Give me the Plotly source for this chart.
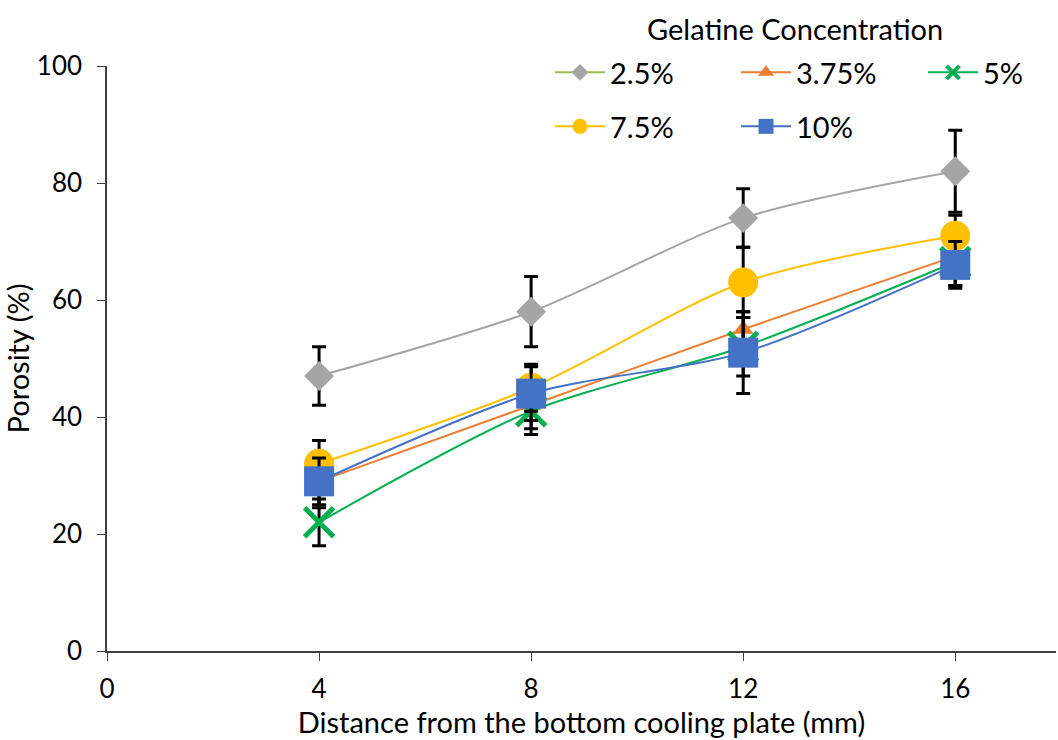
import plotly.graph_objects as go

x = [4, 8, 12, 16]
names = ["2.5%", "3.75%", "5%", "7.5%", "10%"]
por_25 = [47, 58, 74, 82]
por_375 = [29, 42, 55, 67.5]
por_5 = [22, 41, 52, 66.5]
por_75 = [32, 45, 63, 71]
por_10 = [29, 44, 51, 66]
err_25 = [5, 6, 5, 7]
err_375 = [4.5, 4, 3, 5]
err_5 = [4, 4, 5, 4]
err_75 = [4, 4, 6, 3.5]
err_10 = [4, 4.6, 7, 4]

colors = ["#A5A5A5", "#ED7D31", "#00B050", "#FFC000", "#4472C4"]
legend_line = ["#9BBB59", "#ED7D31", "#00B050", "#FFC000", "#4472C4"]
symbols = ["diamond", "triangle-up", "x-thin-open", "circle", "square"]
sizes = [23, 18, 29, 30, 30]
leg_sizes = [13, 14, 13, 15, 15]
legend_ids = ["legend", "legend", "legend3", "legend2", "legend2"]
series = [por_25, por_375, por_5, por_75, por_10]
errs = [err_25, err_375, err_5, err_75, err_10]

fig = go.Figure()
for i in range(5):
    mk = dict(symbol=symbols[i], size=sizes[i], color=colors[i])
    if symbols[i] == "x-thin-open":
        mk["line"] = dict(width=5, color=colors[i])
    fig.add_trace(go.Scatter(
        x=x, y=series[i], mode="lines+markers", showlegend=False,
        line=dict(color=colors[i], width=2, shape="spline", smoothing=0.8),
        marker=mk,
        error_y=dict(type="data", array=errs[i], color="black", thickness=3, width=7),
    ))
for i in range(5):
    mk = dict(symbol=symbols[i], size=leg_sizes[i], color=colors[i])
    if symbols[i] == "x-thin-open":
        mk["line"] = dict(width=4, color=colors[i])
    fig.add_trace(go.Scatter(
        x=[None], y=[None], mode="lines+markers", name=names[i], legend=legend_ids[i],
        line=dict(color=legend_line[i], width=2), marker=mk,
    ))

font = "Lato, Open Sans, sans-serif"
H, B, T = 740, 89, 66
ph = H - B  # paper height (top margin 0)
PW = 949
leg_common = dict(orientation="h", xanchor="left", yanchor="top", itemwidth=50,
                  bgcolor="rgba(0,0,0,0)", font=dict(size=29))
fig.update_layout(
    width=1058, height=H,
    margin=dict(l=107, r=2, t=0, b=B),
    paper_bgcolor="white", plot_bgcolor="white",
    font=dict(family=font, size=26, color="black"),
    xaxis=dict(range=[0, 17.9], tickvals=[0, 4, 8, 12, 16], showgrid=False, zeroline=False,
               automargin=False,
               showline=True, linecolor="#404040", linewidth=1.5, ticks="outside", ticklen=8,
               tickcolor="#404040", tickfont=dict(size=26), ticklabelstandoff=6,
               title=dict(text="Distance from the bottom cooling plate (mm)", font=dict(size=29), standoff=6)),
    yaxis=dict(range=[0, 100], tickvals=[0, 20, 40, 60, 80, 100], showgrid=False, zeroline=False,
               domain=[0, (ph - T) / ph], automargin=False,
               showline=True, linecolor="#404040", linewidth=1.5, ticks="outside", ticklen=8,
               tickcolor="#404040", tickfont=dict(size=26), ticklabelstandoff=10,
               title=dict(text="Porosity (%)", font=dict(size=29), standoff=7)),
    legend=dict(y=(ph - 47) / ph, x=(550 - 107) / PW, entrywidth=121, **leg_common),
    legend2=dict(y=(ph - 101) / ph, x=(550 - 107) / PW, entrywidth=121, **leg_common),
    legend3=dict(y=(ph - 47) / ph, x=(923 - 107) / PW, **leg_common),
    annotations=[dict(text="Gelatine Concentration", xref="paper", yref="paper",
                      x=(795 - 107) / PW, y=(ph - 29) / ph, xanchor="center", yanchor="middle",
                      showarrow=False, font=dict(size=29))],
)
fig.write_html("out.html")
